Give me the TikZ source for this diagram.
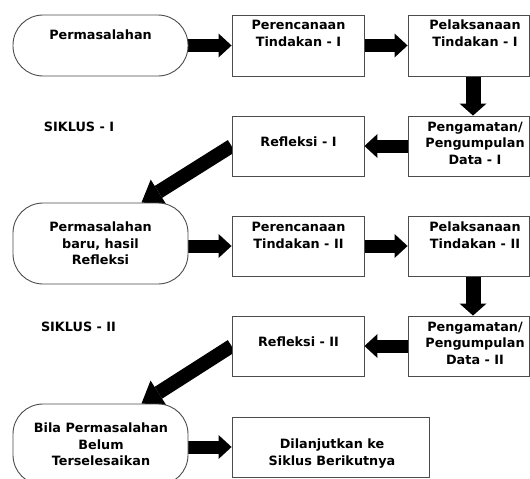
\documentclass[tikz,border=0pt]{standalone}
\usepackage{fontspec}
\setmainfont{DejaVu Sans}
\usetikzlibrary{arrows.meta}
\pgfdeclarelayer{bg}
\pgfsetlayers{bg,main}
\begin{document}
\begin{tikzpicture}[x=1pt,y=-1pt,
  shapebox/.style={draw=black!70,line width=0.9pt,fill=white,inner sep=0pt,minimum height=60pt},
  stadium/.style={shapebox,rounded corners=30pt,minimum width=175pt},
  txt/.style={font=\bfseries\fontsize{12.8}{16.5}\selectfont,align=center,inner sep=0pt,text=black},
  harrow/.style={line width=13pt,-{Triangle[length=13pt,width=24pt,line width=0pt]}},
  varrow/.style={line width=15pt,-{Triangle[length=12pt,width=27pt,line width=0pt]}},
  darrow/.style={line width=14pt,-{Triangle[length=20pt,width=29pt,line width=0pt]}}
]
\useasboundingbox (0,0) rectangle (530,479);
% shapes
\node[stadium,minimum height=61pt] (S1) at (100.5,45.5) {};
\node[shapebox,minimum width=132pt,minimum height=61pt] (P1) at (298,45.5) {};
\node[shapebox,minimum width=121pt,minimum height=61pt] (L1) at (468.5,45.5) {};
\node[shapebox,minimum width=121pt] (G1) at (468.5,146) {};
\node[shapebox,minimum width=132pt] (R1) at (298,146) {};
\node[stadium,minimum height=81pt] (S2) at (100.5,243.5) {};
\node[shapebox,minimum width=132pt] (P2) at (298,246) {};
\node[shapebox,minimum width=121pt] (L2) at (468.5,246) {};
\node[shapebox,minimum width=121pt] (G2) at (468.5,346) {};
\node[shapebox,minimum width=132pt] (R2) at (298,346) {};
\node[stadium,minimum height=81pt] (S3) at (100.5,444.5) {};
\node[shapebox,minimum width=197pt] (D) at (330.5,447) {};
% texts
\node[txt] (tS1) at (100.5,35.1) {Permasalahan};
\node[txt] (tP1) at (298.5,33.3) {Perencanaan\\Tindakan - I};
\node[txt] (tL1) at (475,33.1) {Pelaksanaan\\Tindakan - I};
\node[txt] (tG1) at (475,143) {Pengamatan/\\Pengumpulan\\Data - I};
\node[txt] (tR1) at (298.5,141.8) {Refleksi - I};
\node[txt] (k1) at (79,127) {SIKLUS - I};
\node[txt] (tS2) at (100.5,243.3) {Permasalahan\\baru, hasil\\Refleksi};
\node[txt] (tP2) at (298.5,235.3) {Perencanaan\\Tindakan - II};
\node[txt] (tL2) at (475,235.1) {Pelaksanaan\\Tindakan - II};
\node[txt] (tG2) at (475,343.3) {Pengamatan/\\Pengumpulan\\Data - II};
\node[txt] (tR2) at (298.5,341.8) {Refleksi - II};
\node[txt] (k2) at (78.5,327) {SIKLUS - II};
\node[txt] (tS3) at (101,444.3) {Bila Permasalahan\\Belum\\Terselesaikan};
\node[txt] (tD) at (332,453.6) {Dilanjutkan ke\\Siklus Berikutnya};
% arrows
\begin{pgfonlayer}{bg}
\draw[harrow] (S1.east) -- (P1.west);
\draw[harrow] (P1.east) -- (L1.west);
\draw[varrow] ([xshift=4.5pt]L1.south) -- ([xshift=4.5pt]G1.north);
\draw[harrow] (G1.west) -- (R1.east);
\draw[darrow] (R1.west) -- ([xshift=41pt]S2.north);
\draw[harrow] (S2.east |- P2.west) -- (P2.west);
\draw[harrow] (P2.east) -- (L2.west);
\draw[varrow] ([xshift=4.5pt]L2.south) -- ([xshift=4.5pt]G2.north);
\draw[harrow] (G2.west) -- (R2.east);
\draw[darrow] (R2.west) -- ([xshift=41pt]S3.north);
\draw[harrow] (S3.east |- D.west) -- (D.west);
\end{pgfonlayer}
\end{tikzpicture}
\end{document}
